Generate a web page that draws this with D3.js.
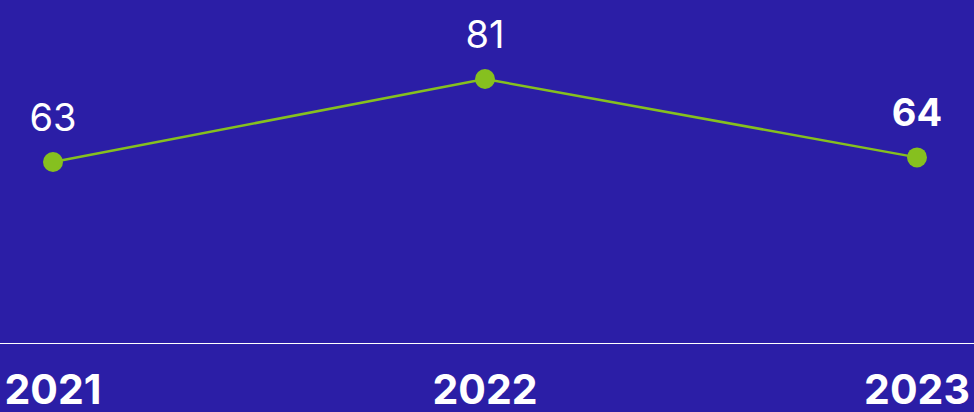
<!DOCTYPE html>
<html>
<head>
<meta charset="utf-8">
<script src="https://cdn.jsdelivr.net/npm/d3@7"></script>
<style>
  html, body { margin: 0; padding: 0; background: #2b1ea6; }
  svg { display: block; }
</style>
</head>
<body>
<div class="chart"></div>
<script>
// chart data
var years = ['2021', '2022', '2023'];
var values = [63, 81, 64];
var boldLabel = [false, false, true];

var width = 974, height = 412;

var svg = d3.select('.chart')
  .append('svg')
  .attr('width', width)
  .attr('height', height);

svg.append('rect')
  .attr('width', width)
  .attr('height', height)
  .attr('fill', '#2b1ea6');

// x positions of the three points
var x = d3.scalePoint().domain(years).range([53, 917]);

// y scale
var y = d3.scaleLinear().domain([63, 81]).range([162, 79]);

// baseline
svg.append('line')
  .attr('x1', 0).attr('x2', width)
  .attr('y1', 343.5).attr('y2', 343.5)
  .attr('stroke', '#ffffff')
  .attr('stroke-width', 1);

// year labels
svg.selectAll('.year')
  .data(years)
  .enter().append('text')
  .attr('class', 'year')
  .attr('x', function(d) { return x(d); })
  .attr('y', 404)
  .attr('text-anchor', 'middle')
  .attr('fill', '#ffffff')
  .style('font-family', 'Inter, sans-serif')
  .style('font-weight', 700)
  .style('font-size', '41px')
  .text(function(d) { return d; });

var pts = years.map(function(d, i) { return { year: d, value: values[i], bold: boldLabel[i] }; });

var line = d3.line()
  .x(function(d) { return x(d.year); })
  .y(function(d) { return y(d.value); });

svg.append('path')
  .datum(pts)
  .attr('d', line)
  .attr('fill', 'none')
  .attr('stroke', '#86c01f')
  .attr('stroke-width', 2.5);

svg.selectAll('.dot')
  .data(pts)
  .enter().append('circle')
  .attr('class', 'dot')
  .attr('cx', function(d) { return x(d.year); })
  .attr('cy', function(d) { return y(d.value); })
  .attr('r', 10)
  .attr('fill', '#86c01f');

// value labels
svg.selectAll('.val')
  .data(pts)
  .enter().append('text')
  .attr('class', 'val')
  .attr('x', function(d) { return x(d.year); })
  .attr('y', function(d) { return y(d.value) - 31; })
  .attr('text-anchor', 'middle')
  .attr('fill', '#ffffff')
  .style('font-family', 'Inter, sans-serif')
  .style('font-weight', function(d) { return d.bold ? 700 : 400; })
  .style('font-size', '38px')
  .text(function(d) { return d.value; });
</script>
</body>
</html>
